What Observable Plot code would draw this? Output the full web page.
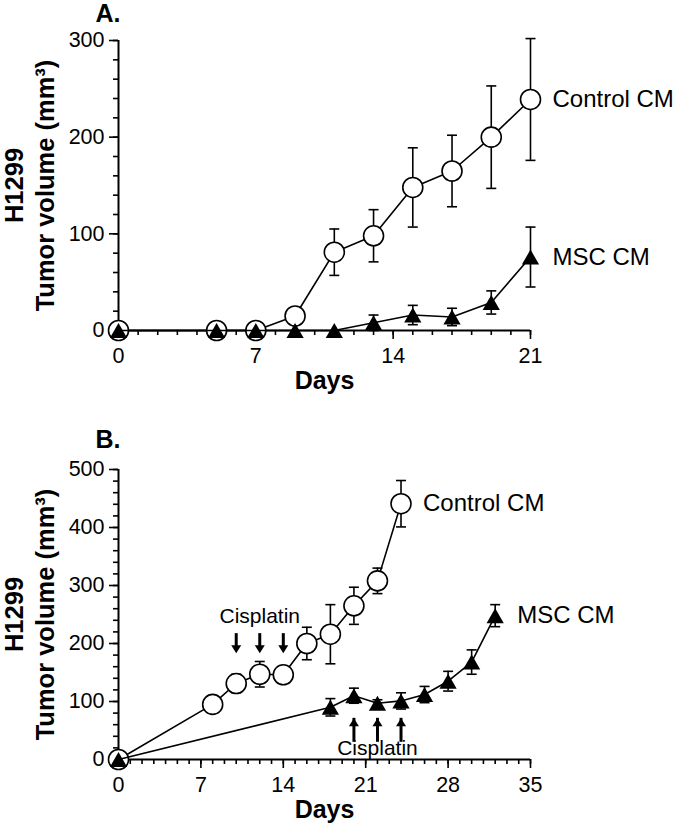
<!DOCTYPE html>
<html><head><meta charset="utf-8">
<script src="https://cdn.jsdelivr.net/npm/d3@7"></script>
<script src="https://cdn.jsdelivr.net/npm/@observablehq/plot@0.6"></script>
<style>
html,body{margin:0;padding:0;background:#fff;}
#chart{width:676px;}
#chart svg{display:block;}
</style></head><body><div id="chart"></div>
<script>
// ---------- Panel A data ----------
const daysA = [0, 5, 7, 9, 11, 13, 15, 17, 19, 21];
const controlA = [0, 0, 0, 15, 81, 98, 148, 165, 200, 239];
const controlAErr = [0, 0, 0, 0, 24, 27, 41, 37, 53, 63];
const mscA = [0, 0, 0, 0, 0, 8, 16, 14, 29, 76];
const mscAErr = [0, 0, 0, 0, 0, 8, 10, 9, 12, 31];
const xTicksA = [0, 7, 14, 21];
const yTicksA = [0, 100, 200, 300];

// ---------- Panel B data ----------
const daysControlB = [0, 8, 10, 12, 14, 16, 18, 20, 22, 24];
const controlB = [0, 95, 131, 147, 146, 200, 216, 265, 308, 441];
const controlBErr = [0, 0, 16, 22, 8, 28, 51, 32, 22, 40];
const daysMscB = [0, 18, 20, 22, 24, 26, 28, 30, 32];
const mscB = [0, 90, 110, 97, 101, 112, 135, 168, 248];
const mscBErr = [0, 15, 13, 6, 14, 14, 17, 21, 19];
const xTicksB = [0, 7, 14, 21, 28, 35];
const yTicksB = [0, 100, 200, 300, 400, 500];

// Cisplatin treatment days (panel B)
const cisplatinControlDays = [10, 12, 14];
const cisplatinMscDays = [20, 22, 24];

const seriesLabels = ["Control CM", "MSC CM"];
const yLabel1 = "H1299";
const yLabel2 = "Tumor volume (mm³)";
const xLabel = "Days";

const FONT = "'Liberation Sans', Arial, Helvetica, sans-serif";
const SW = 1.6;

const hline = {draw(ctx, size) { const r = Math.sqrt(size / Math.PI); ctx.moveTo(-r, 0); ctx.lineTo(r, 0); }};
const headDown = {draw(ctx) { ctx.moveTo(0, 0); ctx.lineTo(-5, -8); ctx.lineTo(5, -8); ctx.closePath(); }};
const headUp = {draw(ctx) { ctx.moveTo(0, 0); ctx.lineTo(-5, 8); ctx.lineTo(5, 8); ctx.closePath(); }};

function series(days, vals, errs) {
  return days.map((d, i) => ({day: d, v: vals[i], e: errs[i], lo: vals[i] - errs[i], hi: vals[i] + errs[i]}));
}

function panel(cfg) {
  const C = series(cfg.daysC, cfg.valsC, cfg.errC);
  const M = series(cfg.daysM, cfg.valsM, cfg.errM);
  const CE = C.filter(d => d.e > 0), ME = M.filter(d => d.e > 0);
  const lastC = [{...C[C.length - 1], label: seriesLabels[0]}];
  const lastM = [{...M[M.length - 1], label: seriesLabels[1]}];
  const marks = [
    Plot.axisY({ticks: d3.range(cfg.yDomain[0], cfg.yDomain[1] + 1, 20), tickSize: 5, tickFormat: () => "", strokeWidth: SW, label: null}),
    Plot.axisY({ticks: cfg.yTicks, tickSize: 9, tickPadding: 5, fontSize: 21.5, strokeWidth: SW, label: null}),
    Plot.axisX({ticks: d3.range(cfg.xDomain[0], cfg.xDomain[1] + 1, 1), tickSize: 5, tickFormat: () => "", strokeWidth: SW, label: null}),
    Plot.axisX({ticks: cfg.xTicks, tickSize: 9, tickPadding: 8, fontSize: 21.5, strokeWidth: SW, label: null}),
    Plot.ruleX([0], {strokeWidth: SW + 0.4}),
    Plot.ruleY([0], {strokeWidth: SW + 0.4}),
    ...(cfg.extras || []),
    // Control CM
    Plot.line(C, {x: "day", y: "v", stroke: "black", strokeWidth: SW}),
    Plot.ruleX(CE, {x: "day", y1: "lo", y2: "hi", stroke: "black", strokeWidth: SW}),
    Plot.dot(CE, {x: "day", y: "hi", symbol: hline, r: 5, stroke: "black", strokeWidth: SW}),
    Plot.dot(CE, {x: "day", y: "lo", symbol: hline, r: 5, stroke: "black", strokeWidth: SW}),
    Plot.dot(C, {x: "day", y: "v", r: 10, fill: "white", stroke: "black", strokeWidth: SW}),
    // MSC CM
    Plot.line(M, {x: "day", y: "v", stroke: "black", strokeWidth: SW}),
    Plot.ruleX(ME, {x: "day", y1: "lo", y2: "hi", stroke: "black", strokeWidth: SW}),
    Plot.dot(ME, {x: "day", y: "hi", symbol: hline, r: 5, stroke: "black", strokeWidth: SW}),
    Plot.dot(ME, {x: "day", y: "lo", symbol: hline, r: 5, stroke: "black", strokeWidth: SW}),
    Plot.dot(M, {x: "day", y: "v", symbol: "triangle", r: 6.4, fill: "black", stroke: "none", dy: 2.5}),
    // series labels
    Plot.text(lastC, {x: "day", y: "v", text: "label", dx: 22, textAnchor: "start", lineAnchor: "middle", fontSize: 24}),
    Plot.text(lastM, {x: "day", y: "v", text: "label", dx: 22, textAnchor: "start", lineAnchor: "middle", fontSize: 24}),
    // panel letter
    Plot.text([cfg.letter], {text: d => d, frameAnchor: "top-left", dx: -23, dy: cfg.letterDy, textAnchor: "start", lineAnchor: "bottom", fontSize: 25, fontWeight: "bold"}),
    // axis titles
    Plot.text([xLabel], {text: d => d, frameAnchor: "bottom", dy: 58, textAnchor: "middle", lineAnchor: "bottom", fontSize: 25, fontWeight: "bold"}),
    Plot.text([yLabel2], {text: d => d, frameAnchor: "left", dx: -73, rotate: -90, textAnchor: "middle", lineAnchor: "middle", fontSize: 25.5, fontWeight: "bold"}),
    Plot.text([yLabel1], {text: d => d, frameAnchor: "left", dx: -104, rotate: -90, textAnchor: "middle", lineAnchor: "middle", fontSize: 25.5, fontWeight: "bold"})
  ];
  return Plot.plot({
    width: 676,
    height: cfg.height,
    marginLeft: 118,
    marginRight: 146,
    marginTop: cfg.marginTop,
    marginBottom: cfg.marginBottom,
    style: {fontFamily: FONT, color: "black", background: "white", overflow: "visible"},
    x: {domain: cfg.xDomain},
    y: {domain: cfg.yDomain},
    marks
  });
}

const plotA = panel({
  letter: "A.", letterDy: -19,
  daysC: daysA, valsC: controlA, errC: controlAErr,
  daysM: daysA, valsM: mscA, errM: mscAErr,
  xDomain: [0, 21], xTicks: xTicksA, yDomain: [0, 300], yTicks: yTicksA,
  height: 400, marginTop: 40, marginBottom: 70
});

const topArrows = cisplatinControlDays.map(d => ({day: d, from: 217, to: 183}));
const bottomArrows = cisplatinMscDays.map(d => ({day: d, from: 40, to: 71}));
const extrasB = [
  Plot.ruleX(topArrows, {x: "day", y1: "from", y2: "to", insetBottom: 6, stroke: "black", strokeWidth: 3}),
  Plot.dot(topArrows, {x: "day", y: "to", symbol: headDown, fill: "black", stroke: "none"}),
  Plot.ruleX(bottomArrows, {x: "day", y1: "from", y2: "to", insetTop: 6, stroke: "black", strokeWidth: 3}),
  Plot.dot(bottomArrows, {x: "day", y: "to", symbol: headUp, fill: "black", stroke: "none"}),
  Plot.text([{day: 12, y: 235, t: "Cisplatin"}], {x: "day", y: "y", text: "t", lineAnchor: "bottom", fontSize: 21}),
  Plot.text([{day: 22, y: 7, t: "Cisplatin"}], {x: "day", y: "y", text: "t", lineAnchor: "bottom", fontSize: 21})
];

const plotB = panel({
  letter: "B.", letterDy: -22,
  daysC: daysControlB, valsC: controlB, errC: controlBErr,
  daysM: daysMscB, valsM: mscB, errM: mscBErr,
  xDomain: [0, 35], xTicks: xTicksB, yDomain: [0, 500], yTicks: yTicksB,
  height: 425, marginTop: 69, marginBottom: 66,
  extras: extrasB
});

const root = document.getElementById("chart");
root.appendChild(plotA);
root.appendChild(plotB);
</script>
</body></html>
